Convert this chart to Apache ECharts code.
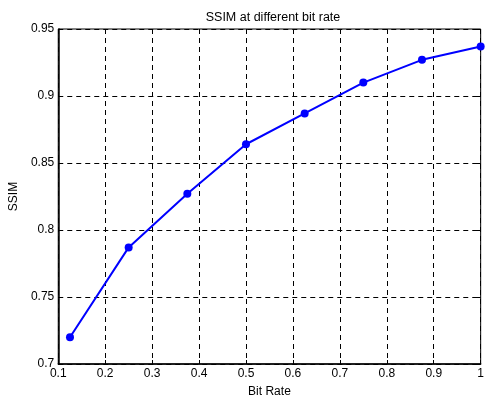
<!DOCTYPE html>
<html>
<head>
    <meta charset="utf-8">
    <title>SSIM at different bit rate</title>
    <script src="https://cdn.jsdelivr.net/npm/echarts@6/dist/echarts.min.js"></script>
    <style>
        html, body { margin: 0; padding: 0; background: #fff; }
        #main { width: 487px; height: 403px; }
    </style>
</head>
<body>
<div id="main"></div>
<script type="text/javascript">
    // values
    var bitRate = [0.125, 0.25, 0.375, 0.5, 0.625, 0.75, 0.875, 1.0];
    var ssim = [0.720, 0.787, 0.827, 0.864, 0.887, 0.910, 0.927, 0.937];

    var points = bitRate.map(function (x, i) { return [x, ssim[i]]; });

    var font = 'Liberation Sans, Arial, Helvetica, sans-serif';
    var dashGrid = { show: true, lineStyle: { color: '#000', type: [5, 4], width: 1 } };

    var myChart = echarts.init(document.getElementById('main'));
    var option = {
        animation: false,
        backgroundColor: '#fff',
        title: {
            text: 'SSIM at different bit rate',
            left: 268, top: 6, textAlign: 'center',
            textStyle: { fontFamily: font, fontSize: 12.5, fontWeight: 'normal', color: '#000' }
        },
        grid: { left: 56, right: 2, top: 29, bottom: 37, show: true, borderColor: '#000', borderWidth: 1 },
        xAxis: [{
            type: 'value', min: 0.1, max: 1, interval: 0.1,
            name: 'Bit Rate', nameLocation: 'middle', nameGap: 22,
            nameTextStyle: { fontFamily: font, fontSize: 12, color: '#000' },
            axisLine: { show: true, lineStyle: { color: '#000', width: 1.5 } },
            axisTick: { inside: true, length: 4, lineStyle: { color: '#000' } },
            axisLabel: { fontFamily: font, fontSize: 12, color: '#000', margin: 4 },
            splitLine: dashGrid
        }, {
            type: 'value', position: 'top', min: 0.1, max: 1, interval: 0.1,
            axisLine: { show: false },
            axisTick: { inside: true, length: 4, lineStyle: { color: '#000' } },
            axisLabel: { show: false }, splitLine: { show: false }
        }],
        yAxis: [{
            type: 'value', min: 0.7, max: 0.95, interval: 0.05,
            name: 'SSIM', nameLocation: 'middle', nameGap: 38,
            nameTextStyle: { fontFamily: font, fontSize: 12, color: '#000' },
            axisLine: { show: true, lineStyle: { color: '#000', width: 1.5 } },
            axisTick: { inside: true, length: 4, lineStyle: { color: '#000' } },
            axisLabel: { fontFamily: font, fontSize: 12, color: '#000', margin: 4 },
            splitLine: dashGrid
        }, {
            type: 'value', position: 'right', min: 0.7, max: 0.95, interval: 0.05,
            axisLine: { show: false },
            axisTick: { inside: true, length: 4, lineStyle: { color: '#000' } },
            axisLabel: { show: false }, splitLine: { show: false }
        }],
        series: [{
            type: 'line',
            data: points,
            symbol: 'circle', symbolSize: 8,
            itemStyle: { color: '#0000ff' },
            lineStyle: { color: '#0000ff', width: 2 },
            clip: false
        }]
    };
    myChart.setOption(option);
</script>
</body>
</html>
